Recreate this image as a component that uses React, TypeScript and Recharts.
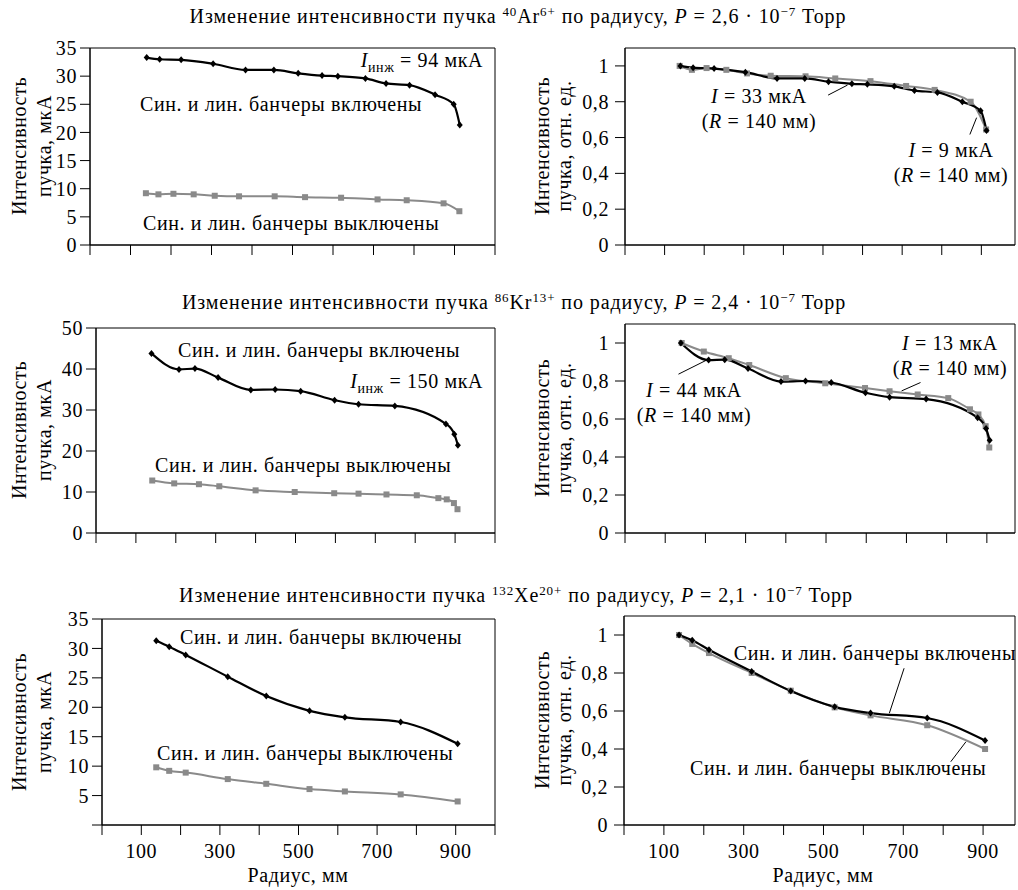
import React from "react";
import { LineChart, Line, XAxis, YAxis, ReferenceArea, ReferenceLine } from "recharts";

// radii, mm
const AR_R_ON = [140, 172, 225, 304, 384, 454, 514, 573, 612, 680, 731, 789, 852, 898, 913];
const AR_R_OFF = [138, 169, 206, 256, 308, 368, 456, 531, 620, 710, 782, 873, 912];
const KR_R_ON = [139, 208, 248, 306, 388, 449, 513, 598, 658, 749, 877, 898, 907];
const KR_R_OFF = [141, 196, 258, 309, 400, 498, 597, 658, 728, 804, 858, 879, 897, 906];
const XE_R = [138, 171, 213, 320, 418, 528, 618, 760, 905];

// beam current, мкА
const AR_ON_ABS = [33.3, 33.0, 32.9, 32.2, 31.1, 31.1, 30.5, 30.1, 30.0, 29.6, 28.7, 28.4, 26.7, 25.0, 21.3];
const AR_OFF_ABS = [9.2, 9.0, 9.1, 9.0, 8.75, 8.65, 8.65, 8.5, 8.4, 8.1, 7.95, 7.4, 6.0];
const KR_ON_ABS = [43.8, 39.9, 40.1, 37.9, 34.9, 35.0, 34.6, 32.4, 31.4, 31.0, 26.6, 24.1, 21.4];
const KR_OFF_ABS = [12.8, 12.1, 11.9, 11.4, 10.4, 10.0, 9.7, 9.6, 9.4, 9.2, 8.5, 8.2, 7.3, 5.8];
const XE_ON_ABS = [31.3, 30.3, 28.9, 25.2, 21.9, 19.4, 18.3, 17.5, 13.8];
const XE_OFF_ABS = [9.8, 9.2, 8.9, 7.8, 7.0, 6.1, 5.7, 5.2, 4.0];

// relative (normalised to R = 140 mm)
const AR_ON_REL = [1.0, 0.99, 0.985, 0.965, 0.93, 0.93, 0.912, 0.9, 0.897, 0.886, 0.862, 0.852, 0.8, 0.75, 0.64];
const AR_OFF_REL = [1.0, 0.978, 0.988, 0.978, 0.958, 0.945, 0.942, 0.93, 0.915, 0.888, 0.866, 0.8, 0.645];
const KR_ON_REL = [1.0, 0.91, 0.912, 0.866, 0.797, 0.8, 0.792, 0.738, 0.715, 0.705, 0.607, 0.55, 0.488];
const KR_OFF_REL = [1.0, 0.955, 0.92, 0.884, 0.815, 0.788, 0.763, 0.746, 0.729, 0.71, 0.651, 0.624, 0.562, 0.45];
const XE_ON_REL = [1.0, 0.972, 0.922, 0.808, 0.705, 0.622, 0.589, 0.563, 0.445];
const XE_OFF_REL = [1.0, 0.953, 0.905, 0.8, 0.707, 0.619, 0.577, 0.525, 0.4];

const ABS_TICKS_35 = [0, 5, 10, 15, 20, 25, 30, 35];
const ABS_TICKS_50 = [0, 10, 20, 30, 40, 50];
const REL_TICKS = [0, 0.2, 0.4, 0.6, 0.8, 1];
const R_TICKS = [0, 100, 200, 300, 400, 500, 600, 700, 800, 900, 1000];

const FONT = "Liberation Serif";
const FS = 20;
const LS = 0.6;
const GRAY = "#8a8a8a";

const zip = (r: number[], v: number[]) => r.map((x, i) => ({ r: x, v: v[i] }));

const Diamond = (p: any) => {
  const { cx, cy } = p;
  if (cx == null || cy == null) return null;
  return <path d={`M${cx},${cy - 3.5}L${cx + 3},${cy}L${cx},${cy + 3.5}L${cx - 3},${cy}Z`} fill="#000" />;
};
const Square = (p: any) => {
  const { cx, cy } = p;
  if (cx == null || cy == null) return null;
  return <rect x={cx - 3} y={cy - 3} width={6} height={6} fill={GRAY} />;
};

type Leader = [number, number, number, number];

type PanelProps = {
  left: number;
  top: number;
  w: number;
  h: number;
  xMax: number;
  yMax: number;
  yTicks: number[];
  rel?: boolean;
  xLabels?: boolean;
  hideZero?: boolean;
  on: { r: number; v: number }[];
  off: { r: number; v: number }[];
  leaders?: Leader[];
};

const YW = 80;
const MT = 10;
const MR = 6;
const XH = 45;

const tickStyle = { fill: "#000", fontSize: FS, style: { fontFamily: FONT, letterSpacing: LS } };

function Panel(props: PanelProps) {
  const { left, top, w, h, xMax, yMax, yTicks, rel, xLabels, hideZero, on, off, leaders = [] } = props;
  const fmtY = (v: number) => (hideZero && v === 0 ? "" : String(v).replace(".", ","));
  const fmtX = (v: number) => (xLabels && v % 200 === 100 ? String(v) : "");
  return (
    <div style={{ position: "absolute", left: left - YW, top: top - MT }}>
      <LineChart width={YW + w + MR} height={MT + h + XH} margin={{ top: MT, right: MR, left: 0, bottom: 0 }}>
        <XAxis
          type="number"
          dataKey="r"
          domain={[0, xMax]}
          ticks={R_TICKS.filter((t) => t <= xMax)}
          interval={0}
          allowDataOverflow
          tickFormatter={fmtX}
          tickSize={10}
          tickMargin={9}
          height={XH}
          axisLine={{ stroke: "#000" }}
          tickLine={{ stroke: "#000" }}
          tick={tickStyle}
        />
        <YAxis
          type="number"
          dataKey="v"
          domain={[0, yMax]}
          ticks={yTicks}
          interval={0}
          allowDataOverflow
          tickFormatter={fmtY}
          tickSize={10}
          tickMargin={rel ? 6 : 3}
          width={YW}
          axisLine={{ stroke: "#000" }}
          tickLine={{ stroke: "#000" }}
          tick={tickStyle}
        />
        <ReferenceArea x1={0} x2={xMax} y1={0} y2={yMax} fill="none" stroke="#000" strokeWidth={1} />
        <Line data={off} dataKey="v" type="monotone" stroke={GRAY} strokeWidth={2} dot={<Square />} activeDot={false} isAnimationActive={false} />
        <Line data={on} dataKey="v" type="monotone" stroke="#000" strokeWidth={2.2} dot={<Diamond />} activeDot={false} isAnimationActive={false} />
        {leaders.map((l, i) => (
          <ReferenceLine key={i} segment={[{ x: l[0], y: l[1] }, { x: l[2], y: l[3] }]} stroke="#000" strokeWidth={1} />
        ))}
      </LineChart>
    </div>
  );
}

const Sup = ({ children }: { children: React.ReactNode }) => (
  <tspan fontSize={13} dy={-7}>{children}</tspan>
);
const Down = ({ children }: { children: React.ReactNode }) => <tspan dy={7}>{children}</tspan>;

function Title({ x, y, mass, el, q, p }: { x: number; y: number; mass: string; el: string; q: string; p: string }) {
  return (
    <text x={x} y={y} textAnchor="middle" style={{ letterSpacing: 0.9 }}>
      Изменение интенсивности пучка <Sup>{mass}</Sup>
      <Down>{el}</Down>
      <Sup>{q}</Sup>
      <Down> по радиусу, </Down>
      <tspan fontStyle="italic">P</tspan> = {p} · 10<Sup>−7</Sup>
      <Down> Торр</Down>
    </text>
  );
}

function Iinj({ x, y, val }: { x: number; y: number; val: string }) {
  return (
    <text x={x} y={y} textAnchor="end">
      <tspan fontStyle="italic">I</tspan>
      <tspan fontSize={14} dy={5}>инж</tspan>
      <tspan dy={-5}> = {val} мкА</tspan>
    </text>
  );
}

function INote({ x, y, val }: { x: number; y: number; val: string }) {
  return (
    <g>
      <text x={x} y={y} textAnchor="middle">
        <tspan fontStyle="italic">I</tspan> = {val} мкА
      </text>
      <text x={x} y={y + 25} textAnchor="middle">
        (<tspan fontStyle="italic">R</tspan> = 140 мм)
      </text>
    </g>
  );
}

function YTitle({ cy, x1, x2, unit }: { cy: number; x1: number; x2: number; unit: string }) {
  return (
    <g>
      <text transform={`translate(${x1},${cy}) rotate(-90)`} textAnchor="middle">Интенсивность</text>
      <text transform={`translate(${x2},${cy}) rotate(-90)`} textAnchor="middle">{unit}</text>
    </g>
  );
}

const ON = "Син. и лин. банчеры включены";
const OFF = "Син. и лин. банчеры выключены";

export default function App() {
  return (
    <div style={{ position: "absolute", left: 0, top: 0, width: 1018, height: 890, background: "#fff", overflow: "hidden" }}>
      <Panel left={90} top={48} w={405} h={197} xMax={1000} yMax={35} yTicks={ABS_TICKS_35}
        on={zip(AR_R_ON, AR_ON_ABS)} off={zip(AR_R_OFF, AR_OFF_ABS)} />
      <Panel left={625} top={48} w={390} h={197} xMax={985} yMax={1.1} yTicks={REL_TICKS} rel
        on={zip(AR_R_ON, AR_ON_REL)} off={zip(AR_R_OFF, AR_OFF_REL)}
        leaders={[[513, 0.837, 562, 0.893], [871, 0.617, 888, 0.711]]} />
      <Panel left={96} top={328} w={399} h={205} xMax={1000} yMax={50} yTicks={ABS_TICKS_50}
        on={zip(KR_R_ON, KR_ON_ABS)} off={zip(KR_R_OFF, KR_OFF_ABS)} />
      <Panel left={625} top={324} w={390} h={209} xMax={970} yMax={1.1} yTicks={REL_TICKS} rel
        on={zip(KR_R_ON, KR_ON_REL)} off={zip(KR_R_OFF, KR_OFF_REL)}
        leaders={[[133, 0.836, 203, 0.91], [688, 0.748, 735, 0.792]]} />
      <Panel left={102} top={619} w={393} h={206} xMax={1000} yMax={35} yTicks={ABS_TICKS_35} xLabels hideZero
        on={zip(XE_R, XE_ON_ABS)} off={zip(XE_R, XE_OFF_ABS)} />
      <Panel left={624} top={616} w={391} h={209} xMax={980} yMax={1.1} yTicks={REL_TICKS} rel xLabels
        on={zip(XE_R, XE_ON_REL)} off={zip(XE_R, XE_OFF_REL)}
        leaders={[[665, 0.588, 702, 0.825], [857, 0.438, 819, 0.333]]} />

      <svg width={1018} height={890}
        style={{ position: "absolute", left: 0, top: 0, pointerEvents: "none", fontFamily: FONT, fontSize: FS, letterSpacing: LS }}
        fill="#000">
        <Title x={518} y={23} mass="40" el="Ar" q="6+" p="2,6" />
        <Title x={514} y={309} mass="86" el="Kr" q="13+" p="2,4" />
        <Title x={516} y={602} mass="132" el="Xe" q="20+" p="2,1" />

        <YTitle cy={146} x1={26} x2={51} unit="пучка, мкА" />
        <YTitle cy={146} x1={549} x2={571} unit="пучка, отн. ед." />
        <YTitle cy={430} x1={26} x2={51} unit="пучка, мкА" />
        <YTitle cy={428} x1={549} x2={571} unit="пучка, отн. ед." />
        <YTitle cy={722} x1={26} x2={51} unit="пучка, мкА" />
        <YTitle cy={720} x1={549} x2={571} unit="пучка, отн. ед." />

        <text x={298} y={882} textAnchor="middle">Радиус, мм</text>
        <text x={823} y={882} textAnchor="middle">Радиус, мм</text>

        <Iinj x={483} y={67} val="94" />
        <text x={140} y={111}>{ON}</text>
        <text x={143} y={230}>{OFF}</text>
        <INote x={759} y={103} val="33" />
        <INote x={951} y={157} val="9" />

        <text x={178} y={357}>{ON}</text>
        <Iinj x={483} y={388} val="150" />
        <text x={155} y={472}>{OFF}</text>
        <INote x={950} y={350} val="13" />
        <INote x={694} y={397} val="44" />

        <text x={180} y={644}>{ON}</text>
        <text x={157} y={760}>{OFF}</text>
        <text x={1016} y={660} textAnchor="end">{ON}</text>
        <text x={690} y={775}>{OFF}</text>
      </svg>
    </div>
  );
}
